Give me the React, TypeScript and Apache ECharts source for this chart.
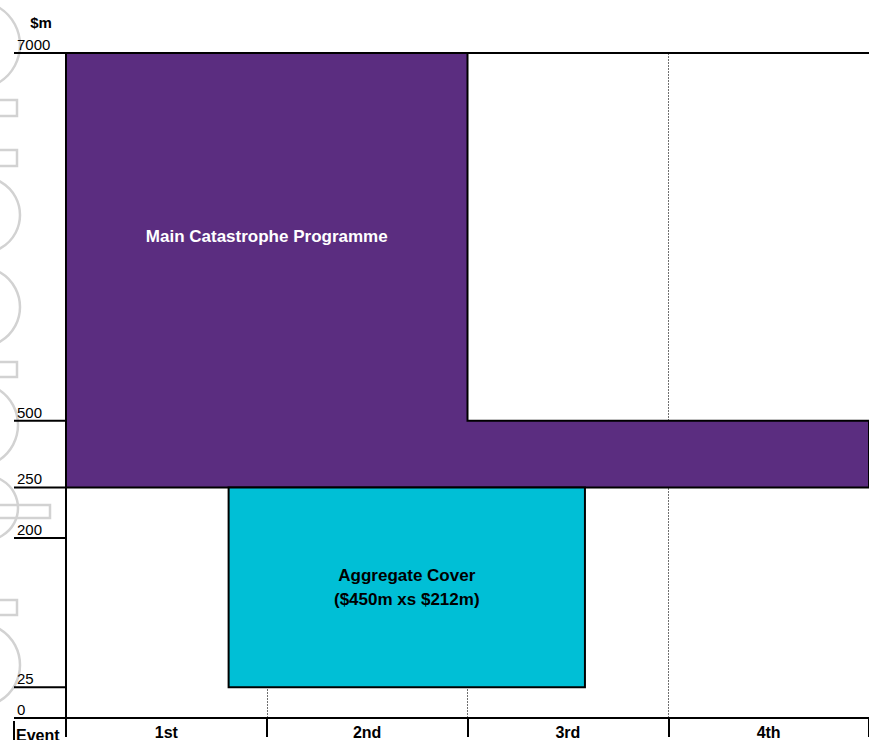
import React, { useEffect, useRef } from 'react';
import * as echarts from 'echarts';

// ---- data ----
const eventLabels = ['1st', '2nd', '3rd', '4th'];
const yTickValues = [0, 25, 200, 250, 500, 7000];
const mainLimitByEvent = [7000, 7000, 500, 500];
const mainAttachment = 250;
const aggStartEvent = 0.81;
const aggEndEvent = 2.585;
const aggBottom = 25;
const aggTop = 250;
const mainLabel = 'Main Catastrophe Programme';
const aggLabel = 'Aggregate Cover\n($450m xs $212m)';
const unitLabel = '$m';
const eventAxisLabel = 'Event';

// ---- non-linear (schematic) axis scale: value -> axis position ----
const scaleValues = [0, 25, 200, 250, 500, 7000];
const scalePositions = [0, 31, 181, 232, 299, 669];
function toAxis(v: number): number {
  for (let i = 1; i < scaleValues.length; i++) {
    if (v <= scaleValues[i]) {
      const a = scaleValues[i - 1], b = scaleValues[i];
      const pa = scalePositions[i - 1], pb = scalePositions[i];
      return pa + ((v - a) / (b - a)) * (pb - pa);
    }
  }
  return scalePositions[scalePositions.length - 1];
}

const FONT = '"Liberation Sans", Arial, Helvetica, sans-serif';
const PURPLE = '#5B2D80';
const CYAN = '#00BFD6';
const WM = '#d2d2d2';

// decorative watermark outline (clipped at left edge)
const watermark = [
  { type: 'circle', shape: { cx: -24, cy: 45, r: 44 } },
  { type: 'rect', shape: { x: -10, y: 100, width: 27, height: 16 } },
  { type: 'rect', shape: { x: -10, y: 150, width: 27, height: 16 } },
  { type: 'circle', shape: { cx: -18, cy: 215, r: 38 } },
  { type: 'circle', shape: { cx: -20, cy: 307, r: 40 } },
  { type: 'rect', shape: { x: -10, y: 362, width: 27, height: 15 } },
  { type: 'circle', shape: { cx: -24, cy: 425, r: 42 } },
  { type: 'circle', shape: { cx: -14, cy: 508, r: 32 } },
  { type: 'rect', shape: { x: -10, y: 505, width: 60, height: 13 } },
  { type: 'rect', shape: { x: -10, y: 600, width: 27, height: 15 } },
  { type: 'circle', shape: { cx: -22, cy: 665, r: 42 } },
];

export default function App() {
  const ref = useRef<HTMLDivElement>(null);
  useEffect(() => {
    const chart = echarts.init(ref.current!, null, { renderer: 'svg' });
    const option: any = {
      animation: false,
      backgroundColor: '#ffffff',
      textStyle: { fontFamily: FONT },
      grid: { left: 66, top: 53, width: 804, height: 669, containLabel: false },
      xAxis: [
        {
          type: 'category',
          data: eventLabels,
          boundaryGap: true,
          position: 'bottom',
          axisLine: { show: true, onZero: false, lineStyle: { color: '#000', width: 2 } },
          axisTick: { show: true, interval: 0, length: 19, alignWithLabel: false, lineStyle: { color: '#000', width: 2 } },
          axisLabel: { interval: 0, margin: 6, color: '#000', fontWeight: 'bold', fontSize: 16, fontFamily: FONT },
          splitLine: { show: true, interval: 0, lineStyle: { color: '#707070', type: [2, 1], width: 1 } },
        },
        {
          type: 'value',
          min: 0,
          max: eventLabels.length,
          position: 'top',
          axisLine: { show: true, onZero: false, lineStyle: { color: '#000', width: 2 } },
          axisTick: { show: false },
          axisLabel: { show: false },
          splitLine: { show: false },
        },
      ],
      yAxis: {
        type: 'value',
        min: 0,
        max: scalePositions[scalePositions.length - 1],
        axisLine: { show: true, onZero: false, lineStyle: { color: '#000', width: 2 } },
        axisTick: { show: false },
        axisLabel: { show: false },
        splitLine: { show: false },
      },
      graphic: [
        ...watermark.map((w) => ({
          ...w,
          z: -10,
          silent: true,
          style: { fill: 'none', stroke: WM, lineWidth: 2.5 },
        })),
        {
          type: 'text',
          x: 41,
          y: 22,
          z: 10,
          style: { text: unitLabel, fill: '#000', font: `bold 15px ${FONT}`, textAlign: 'center', textVerticalAlign: 'middle' },
        },
        {
          type: 'text',
          x: 16,
          y: 727,
          z: 10,
          style: { text: eventAxisLabel, fill: '#000', font: `bold 16px ${FONT}`, textAlign: 'left', textVerticalAlign: 'top' },
        },
        {
          type: 'line',
          z: 10,
          shape: { x1: 14, y1: 721, x2: 14, y2: 741 },
          style: { stroke: '#000', lineWidth: 2 },
        },
      ],
      series: [
        {
          type: 'custom',
          name: 'Main Catastrophe Programme',
          xAxisIndex: 1,
          yAxisIndex: 0,
          data: [[0, 0]],
          z: 3,
          renderItem: (_p: any, api: any) => {
            const pts: number[][] = [];
            pts.push(api.coord([0, toAxis(mainAttachment)]));
            mainLimitByEvent.forEach((lim, i) => {
              pts.push(api.coord([i, toAxis(lim)]));
              pts.push(api.coord([i + 1, toAxis(lim)]));
            });
            pts.push(api.coord([mainLimitByEvent.length, toAxis(mainAttachment)]));
            const maxLim = Math.max(...mainLimitByEvent);
            const idx = mainLimitByEvent.map((l, i) => (l === maxLim ? i : -1)).filter((i) => i >= 0);
            const lower = Math.max(...mainLimitByEvent.filter((l) => l < maxLim));
            const cx = (idx[0] + idx[idx.length - 1] + 1) / 2;
            const cTop = api.coord([cx, toAxis(maxLim)]);
            const cBot = api.coord([cx, toAxis(lower)]);
            return {
              type: 'group',
              children: [
                {
                  type: 'polygon',
                  shape: { points: pts },
                  style: { fill: PURPLE, stroke: '#000', lineWidth: 2, lineJoin: 'miter' },
                },
                {
                  type: 'text',
                  x: cTop[0],
                  y: (cTop[1] + cBot[1]) / 2,
                  style: {
                    text: mainLabel,
                    fill: '#fff',
                    font: `bold 17px ${FONT}`,
                    textAlign: 'center',
                    textVerticalAlign: 'middle',
                  },
                },
              ],
            };
          },
        },
        {
          type: 'custom',
          name: 'Aggregate Cover',
          xAxisIndex: 1,
          yAxisIndex: 0,
          data: [[aggStartEvent, toAxis(aggTop), aggEndEvent, toAxis(aggBottom)]],
          z: 4,
          renderItem: (_p: any, api: any) => {
            const p1 = api.coord([api.value(0), api.value(1)]);
            const p2 = api.coord([api.value(2), api.value(3)]);
            return {
              type: 'group',
              children: [
                {
                  type: 'rect',
                  shape: { x: p1[0], y: p1[1], width: p2[0] - p1[0], height: p2[1] - p1[1] },
                  style: { fill: CYAN, stroke: '#000', lineWidth: 2 },
                },
                {
                  type: 'text',
                  x: (p1[0] + p2[0]) / 2,
                  y: (p1[1] + p2[1]) / 2,
                  style: {
                    text: aggLabel,
                    fill: '#000',
                    font: `bold 17px ${FONT}`,
                    lineHeight: 24,
                    textAlign: 'center',
                    textVerticalAlign: 'middle',
                  },
                },
              ],
            };
          },
        },
        {
          type: 'custom',
          name: 'ticks',
          xAxisIndex: 1,
          yAxisIndex: 0,
          data: yTickValues.map((v) => [0, toAxis(v), v]),
          z: 5,
          renderItem: (_p: any, api: any) => {
            const p = api.coord([api.value(0), api.value(1)]);
            const label = String(api.value(2));
            return {
              type: 'group',
              children: [
                {
                  type: 'line',
                  shape: { x1: p[0] - 52, y1: p[1], x2: p[0], y2: p[1] },
                  style: { stroke: '#000', lineWidth: 2 },
                },
                {
                  type: 'text',
                  x: p[0] - 49,
                  y: p[1] - 1,
                  style: {
                    text: label,
                    fill: '#000',
                    font: `15px ${FONT}`,
                    textAlign: 'left',
                    textVerticalAlign: 'bottom',
                  },
                },
              ],
            };
          },
        },
      ],
    };
    chart.setOption(option);
    return () => chart.dispose();
  }, []);
  return (
    <div
      ref={ref}
      style={{ position: 'fixed', left: 0, top: 0, width: 869, height: 740 }}
    />
  );
}
